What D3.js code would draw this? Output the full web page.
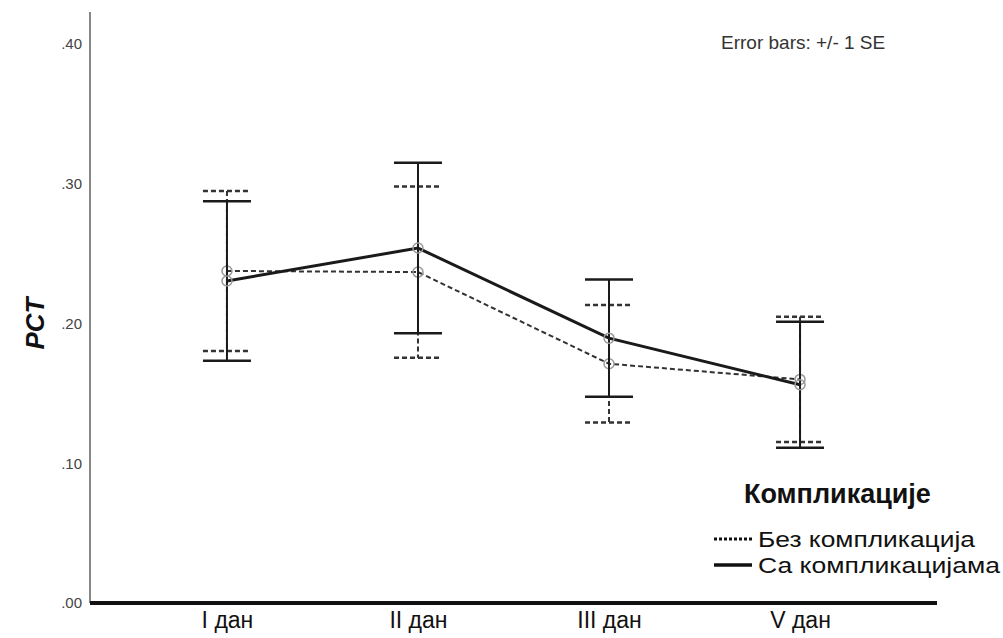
<!DOCTYPE html>
<html>
<head>
<meta charset="utf-8">
<script src="https://cdn.jsdelivr.net/npm/d3@7"></script>
<style>
  body { margin: 0; background: #fff; }
  svg { display: block; font-family: "Liberation Sans", Arial, sans-serif; }
</style>
</head>
<body>
<svg id="chart" width="1003" height="638"></svg>
<script>
// data
const days = ["I дан", "II дан", "III дан", "V дан"];
const groups = ["Без компликација", "Са компликацијама"];
const meanWithout = [0.2376, 0.2368, 0.1712, 0.1600];
const seWithout = [0.0573, 0.0613, 0.0420, 0.0448];
const meanWith = [0.2304, 0.2540, 0.1895, 0.1562];
const seWith = [0.0571, 0.0610, 0.0419, 0.0451];
const yTicks = [0, 0.1, 0.2, 0.3, 0.4];

const svg = d3.select("#chart");
const width = 1003, height = 638;
const margin = { top: 12, right: 66, bottom: 35, left: 90 };

const x = d3.scalePoint()
    .domain(days)
    .range([margin.left, width - margin.right])
    .padding(0.717);

const y = d3.scaleLinear()
    .domain([0, 0.4])
    .range([height - margin.bottom, height - margin.bottom - 0.4 * 1397.5]);

const series = [
    { name: groups[0], mean: meanWithout, se: seWithout, dash: "5,3", width: 2, color: "#333" },
    { name: groups[1], mean: meanWith, se: seWith, dash: null, width: 3, color: "#1a1a1a" }
];

// y axis
const yAxis = svg.append("g")
    .attr("transform", `translate(${margin.left},0)`)
    .call(d3.axisLeft(y).tickValues(yTicks).tickSize(0).tickPadding(8)
        .tickFormat(d => d3.format(".2f")(d).replace(/^0/, "")));
yAxis.select(".domain").remove();
yAxis.selectAll("text").attr("font-size", 15).attr("fill", "#444").attr("font-family", "Liberation Sans, Arial");

svg.append("line")
    .attr("x1", margin.left).attr("x2", margin.left)
    .attr("y1", margin.top).attr("y2", y(0))
    .attr("stroke", "#888").attr("stroke-width", 2);

// x axis
const xAxis = svg.append("g")
    .attr("transform", `translate(0,${y(0)})`)
    .call(d3.axisBottom(x).tickSize(0).tickPadding(9));
xAxis.select(".domain").remove();
xAxis.selectAll("text").attr("font-size", 23).attr("fill", "#111").attr("font-family", "Liberation Sans, Arial");

svg.append("line")
    .attr("x1", margin.left).attr("x2", width - margin.right)
    .attr("y1", y(0)).attr("y2", y(0))
    .attr("stroke", "#111").attr("stroke-width", 4);

// y label
svg.append("text")
    .attr("transform", `translate(44,${(y(0) + y(0.4)) / 2}) rotate(-90)`)
    .attr("text-anchor", "middle")
    .attr("font-size", 26)
    .attr("font-weight", "bold")
    .attr("font-style", "italic")
    .attr("fill", "#111")
    .text("PCT");

// error bars, lines and markers
const capHalf = 24;
series.forEach(s => {
    const g = svg.append("g");
    days.forEach((d, i) => {
        const cx = x(d);
        const hi = y(s.mean[i] + s.se[i]);
        const lo = y(s.mean[i] - s.se[i]);
        g.append("line").attr("x1", cx).attr("x2", cx).attr("y1", hi).attr("y2", lo)
            .attr("stroke", s.color).attr("stroke-width", 2).attr("stroke-dasharray", s.dash);
        [hi, lo].forEach(yy => {
            g.append("line").attr("x1", cx - capHalf).attr("x2", cx + capHalf)
                .attr("y1", yy).attr("y2", yy)
                .attr("stroke", s.color).attr("stroke-width", 2.5).attr("stroke-dasharray", s.dash);
        });
    });

    const line = d3.line().x((v, i) => x(days[i])).y(v => y(v));
    g.append("path")
        .datum(s.mean)
        .attr("d", line)
        .attr("fill", "none")
        .attr("stroke", s.color)
        .attr("stroke-width", s.width)
        .attr("stroke-dasharray", s.dash);

    g.selectAll("circle")
        .data(s.mean)
        .enter()
        .append("circle")
        .attr("cx", (v, i) => x(days[i]))
        .attr("cy", v => y(v))
        .attr("r", 5)
        .attr("fill", "none")
        .attr("stroke", "#999")
        .attr("stroke-width", 1.5);
});

// note
svg.append("text")
    .attr("x", 721).attr("y", 49)
    .attr("font-size", 19)
    .attr("fill", "#333")
    .text("Error bars: +/- 1 SE");

// legend
const legend = svg.append("g");
legend.append("text")
    .attr("x", 744).attr("y", 503)
    .attr("font-size", 27)
    .attr("font-weight", "bold")
    .attr("fill", "#111")
    .text("Компликације");

series.forEach((s, i) => {
    const ly = 539 + i * 26;
    legend.append("line")
        .attr("x1", 714).attr("x2", 752)
        .attr("y1", ly).attr("y2", ly)
        .attr("stroke", "#111")
        .attr("stroke-width", i === 0 ? 3 : 3.5)
        .attr("stroke-dasharray", i === 0 ? "3,2" : null);
    legend.append("text")
        .attr("x", 758).attr("y", ly + 8)
        .attr("font-size", 22)
        .attr("fill", "#111")
        .attr("textLength", i === 0 ? 217 : 242)
        .attr("lengthAdjust", "spacingAndGlyphs")
        .text(s.name);
});
</script>
</body>
</html>
